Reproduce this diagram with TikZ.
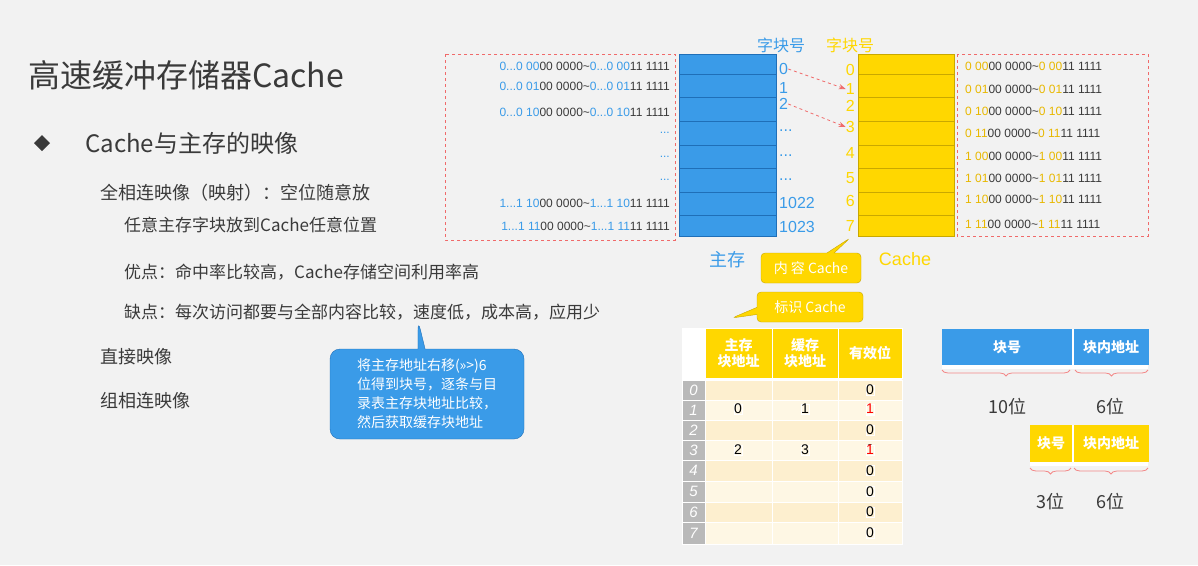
\documentclass[tikz,border=0pt]{standalone}
\usepackage{fontspec}
\setmainfont{Noto Sans CJK SC}
\newfontfamily\lat{Liberation Sans}
\usetikzlibrary{decorations.pathreplacing,arrows.meta,shapes.callouts}
\definecolor{bg}{HTML}{F2F2F2}
\definecolor{mb}{HTML}{3A9BE8}
\definecolor{mbd}{HTML}{1F6FB8}
\definecolor{cy}{HTML}{FFD700}
\definecolor{cyd}{HTML}{C9A800}
\definecolor{cyt}{HTML}{E8B800}
\definecolor{dk}{HTML}{3A3A3A}
\definecolor{rd}{HTML}{F06A6A}
\definecolor{ra}{HTML}{FDEFCF}
\definecolor{rb}{HTML}{FEF7E4}
\newcommand{\adB}[4]{{\lat\color{mb}#1\color{dk}#2\color{mb}#3\color{dk}#4}}
\newcommand{\adY}[4]{{\lat\color{cyt}#1\color{dk}#2\color{cyt}#3\color{dk}#4}}
\newcommand{\mydots}{...}
\begin{document}
\begin{tikzpicture}[x=1pt,y=-1pt,
  addr/.style={font=\fontsize{12}{12}\selectfont,inner sep=0},
  txt/.style={anchor=west,text=dk,inner sep=0},
  hd/.style={fill=cy,draw=white,text=white,font=\fontsize{14}{16}\selectfont\bfseries,align=center,inner sep=0},
  idx/.style={fill=gray!55,draw=white,text=white,font=\lat\itshape\fontsize{15}{15}\selectfont,inner sep=0},
  cell/.style={draw=white,font=\lat\fontsize{14}{14}\selectfont,inner sep=0},
  brace/.style={draw=rd!80,thick,decorate,decoration={brace,mirror,amplitude=6pt}}]
\fill[bg] (0,0) rectangle (1198,565);
\useasboundingbox (0,0) rectangle (1198,565);
% left text
\node[txt,font=\fontsize{32}{32}\selectfont] (title) at (28,75) {高速缓冲存储器Cache};
\fill[dk] (42,135) -- (50,143) -- (42,151) -- (34,143) -- cycle;
\node[txt,font=\fontsize{24}{24}\selectfont] (h1) at (85,143) {Cache与主存的映像};
\node[txt,font=\fontsize{18}{18}\selectfont] (a1) at (100,193) {全相连映像（映射）：空位随意放};
\node[txt,font=\fontsize{17}{17}\selectfont] (a2) at (124,225) {任意主存字块放到Cache任意位置};
\node[txt,font=\fontsize{17}{17}\selectfont] (a3) at (124,272) {优点：命中率比较高，Cache存储空间利用率高};
\node[txt,font=\fontsize{17}{17}\selectfont] (a4) at (124,312) {缺点：每次访问都要与全部内容比较，速度低，成本高，应用少};
\node[txt,font=\fontsize{18}{18}\selectfont] (a5) at (100,357) {直接映像};
\node[txt,font=\fontsize{18}{18}\selectfont] (a6) at (100,401) {组相连映像};
% blue callout
\node[rectangle callout,rounded corners=10pt,fill=mb,draw=mbd,text=white,minimum width=194pt,minimum height=90pt,
  callout absolute pointer={(418,320)},align=left,font=\fontsize{14}{19}\selectfont,inner sep=4pt] (cb) at (427,394)
  {将主存地址右移(>>>)6\\位得到块号，逐条与目\\录表主存块地址比较，\\然后获取缓存块地址};
% dashed boxes
\draw[rd,dashed] (445,54) rectangle (675,240);
\draw[rd,dashed] (957,54) rectangle (1148,236);
% memory
\fill[mb] (679,54) rectangle (776,236);
\fill[cy] (858,54) rectangle (954,236);
\foreach \y in {74,97,121,145,168,192,215}{
  \draw[mbd] (679,\y) -- (776,\y);
  \draw[cyd] (858,\y) -- (954,\y);}
\draw[mbd] (679,54) rectangle (776,236);
\draw[cyd] (858,54) rectangle (954,236);
\node[addr,anchor=east] (ma0) at (670,66) {\adB{0\mydots0 00}{00 0000\textasciitilde}{0\mydots0 00}{11 1111}};
\node[addr,anchor=east] (ma1) at (670,86) {\adB{0\mydots0 01}{00 0000\textasciitilde}{0\mydots0 01}{11 1111}};
\node[addr,anchor=east] (ma2) at (670,112) {\adB{0\mydots0 10}{00 0000\textasciitilde}{0\mydots0 10}{11 1111}};
\node[addr,anchor=east,text=mb] (md1) at (670,133) {\lat\mydots};
\node[addr,anchor=east,text=mb] (md2) at (670,157) {\lat\mydots};
\node[addr,anchor=east,text=mb] (md3) at (670,180) {\lat\mydots};
\node[addr,anchor=east] (ma6) at (670,203) {\adB{1\mydots1 10}{00 0000\textasciitilde}{1\mydots1 10}{11 1111}};
\node[addr,anchor=east] (ma7) at (670,226) {\adB{1\mydots1 11}{00 0000\textasciitilde}{1\mydots1 11}{11 1111}};
\foreach \t/\y in {{0 00}/66,{0 01}/89,{0 10}/111,{0 11}/133,{1 00}/156,{1 01}/178,{1 10}/199,{1 11}/224}{
  \node[addr,anchor=west] at (965,\y) {\adY{\t}{00 0000\textasciitilde}{\t}{11 1111}};}
% index numbers
\node[text=mb,font=\fontsize{16}{16}\selectfont,inner sep=0] (zb1) at (781,45) {字块号};
\node[text=cy,font=\fontsize{16}{16}\selectfont,inner sep=0] (zb2) at (850,45) {字块号};
\foreach \t/\y [count=\i from 0] in {0/69,1/88,2/104,\mydots/131,\mydots/156,\mydots/180,1022/203,1023/227}{
  \node[anchor=west,text=mb,font=\lat\fontsize{16}{16}\selectfont,inner sep=0] (m\i) at (779,\y) {\t};}
\foreach \y [count=\i from 0] in {70,89,106,127,153,178,201,226}{
  \pgfmathtruncatemacro\k{\i}
  \node[anchor=east,text=cy,font=\lat\fontsize{16}{16}\selectfont,inner sep=0] (c\i) at (855,\y) {\k};}
\draw[rd,dashed,thick,-{Stealth[length=7pt]}] (m0.east) -- (c1.west);
\draw[rd,dashed,thick,-{Stealth[length=7pt]}] (m2.east) -- (c3.west);
\node[text=mb,font=\fontsize{18}{18}\selectfont,inner sep=0] (zc) at (727,260) {主存};
\node[text=cy,font=\lat\fontsize{18}{18}\selectfont,inner sep=0] (cc) at (905,259) {Cache};
% yellow callouts
\node[rectangle callout,rounded corners=4pt,fill=cy,draw=cyd,text=white,minimum width=100pt,minimum height=30pt,
  callout absolute pointer={(850,238)},font=\fontsize{14}{14}\selectfont,inner sep=2pt] (nr) at (811,268) {内 容 Cache};
\node[rectangle callout,rounded corners=4pt,fill=cy,draw=cyd,text=white,minimum width=106pt,minimum height=30pt,
  callout absolute pointer={(732,318)},font=\fontsize{14}{14}\selectfont,inner sep=2pt] (bs) at (810,307) {标识 Cache};
% table
\fill[white] (682,328) rectangle (902,544);
\node[hd,minimum width=67pt,minimum height=50pt] (t1) at (738.5,353) {主存\\块地址};
\node[hd,minimum width=66pt,minimum height=50pt] (t2) at (805,353) {缓存\\块地址};
\node[hd,minimum width=64pt,minimum height=50pt] (t3) at (870,353) {有效位};
\foreach \ya/\yb [count=\i from 0] in {380/400,400/420,420/440,440/460,460/481,481/502,502/522,522/544}{
  \pgfmathtruncatemacro\k{\i}
  \ifodd\i \def\rc{rb}\else\def\rc{ra}\fi
  \fill[\rc] (705,\ya) rectangle (902,\yb);
  \node[idx,minimum width=23pt,minimum height=\yb-\ya] (r\i) at (693.5,{(\ya+\yb)/2}) {\k};
  \draw[white] (705,\ya) rectangle (772,\yb) (772,\ya) rectangle (838,\yb) (838,\ya) rectangle (902,\yb);
  \node[cell] (v\i) at (870,{(\ya+\yb)/2}) {0};}
\node[cell,fill=rb,text=red] at (870,409) {1};
\node[cell,fill=rb,text=red] at (870,450) {1};
\node[cell] at (738,409) {0};
\node[cell] at (805,409) {1};
\node[cell] at (738,450) {2};
\node[cell] at (805,450) {3};
% address format
\fill[white] (942,329) rectangle (1148,369);
\node[fill=mb,text=white,minimum width=130pt,minimum height=36pt,inner sep=0,font=\fontsize{14}{14}\selectfont\bfseries] (k1) at (1007,347) {块号};
\node[fill=mb,text=white,minimum width=75pt,minimum height=36pt,inner sep=0,font=\fontsize{14}{14}\selectfont\bfseries] (k2) at (1111,347) {块内地址};
\draw[brace] (942,370) -- (1070,370);
\draw[brace] (1075,370) -- (1148,370);
\node[text=dk,font=\fontsize{18}{18}\selectfont] (b10) at (1007,407) {10位};
\node[text=dk,font=\fontsize{18}{18}\selectfont] (b6) at (1110,407) {6位};
\fill[white] (1030,425) rectangle (1148,466);
\node[fill=cy,text=white,minimum width=42pt,minimum height=37pt,inner sep=0,font=\fontsize{14}{14}\selectfont\bfseries] (y1) at (1051,443) {块号};
\node[fill=cy,text=white,minimum width=75pt,minimum height=37pt,inner sep=0,font=\fontsize{14}{14}\selectfont\bfseries] (y2) at (1111,443) {块内地址};
\draw[brace] (1030,468) -- (1071,468);
\draw[brace] (1074,468) -- (1148,468);
\node[text=dk,font=\fontsize{18}{18}\selectfont] (b3) at (1050,502) {3位};
\node[text=dk,font=\fontsize{18}{18}\selectfont] (b6b) at (1110,502) {6位};
\end{tikzpicture}
\end{document}
